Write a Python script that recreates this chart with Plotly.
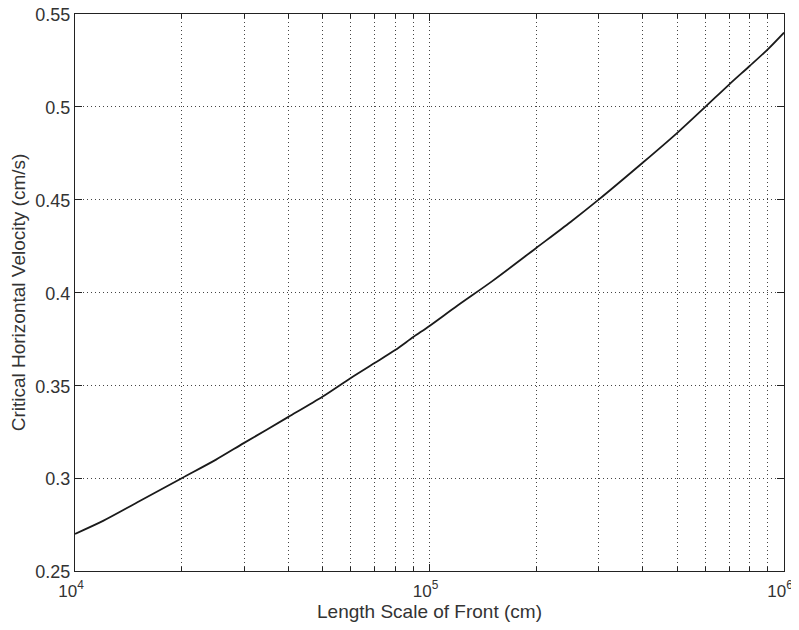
import plotly.graph_objects as go

# Values
length_cm = [1e4, 1.2e4, 1.5e4, 2e4, 2.5e4, 3e4, 4e4, 5e4, 6e4, 7e4, 8e4, 9e4, 1e5,
             1.2e5, 1.5e5, 2e5, 2.5e5, 3e5, 4e5, 5e5, 6e5, 7e5, 8e5, 9e5, 1e6]
velocity = [0.270, 0.277, 0.287, 0.300, 0.310, 0.319, 0.333, 0.344, 0.354, 0.362, 0.369, 0.376, 0.382,
            0.393, 0.406, 0.424, 0.438, 0.450, 0.470, 0.486, 0.500, 0.512, 0.522, 0.531, 0.540]

x_major = [1e4, 1e5, 1e6]
x_labels = ["10<sup>4</sup>", "10<sup>5</sup>", "10<sup>6</sup>"]
x_minor = [m * 10 ** e for e in (4, 5) for m in range(2, 10)]
y_ticks = [0.25, 0.3, 0.35, 0.4, 0.45, 0.5, 0.55]
y_labels = ["0.25", "0.3", "0.35", "0.4", "0.45", "0.5", "0.55"]

fig = go.Figure(go.Scatter(x=length_cm, y=velocity, mode="lines",
                           line=dict(color="#1a1a1a", width=1.8, shape="spline", smoothing=0.8)))

dots = "1px,3px"

fig.update_xaxes(type="log", range=[4, 6], tickvals=x_major, ticktext=x_labels,
                 ticks="inside", ticklen=7, tickcolor="#222",
                 showline=True, linecolor="#222", linewidth=1.3, mirror="ticks",
                 title=dict(text="Length Scale of Front (cm)", font=dict(size=19), standoff=0),
                 tickfont=dict(size=17), automargin=False, ticklabeloverflow="allow",
                 ticklabelshift=-4, ticklabelstandoff=4,
                 showgrid=True, gridcolor="#444", griddash=dots, gridwidth=1,
                 minor=dict(tickvals=x_minor, ticks="inside", ticklen=4, tickcolor="#222",
                            showgrid=True, gridcolor="#444", griddash=dots, gridwidth=1),
                 zeroline=False)
fig.update_yaxes(range=[0.25, 0.55], tickvals=y_ticks, ticktext=y_labels,
                 ticks="inside", ticklen=7, tickcolor="#222",
                 showline=True, linecolor="#222", linewidth=1.3, mirror="ticks",
                 title=dict(text="Critical Horizontal Velocity (cm/s)", font=dict(size=19), standoff=5),
                 tickfont=dict(size=18), automargin=False, ticklabeloverflow="allow",
                 ticklabelshift=1,
                 showgrid=True, gridcolor="#444", griddash=dots, gridwidth=1,
                 zeroline=False)

# page body adds an 8px margin, so the figure is sized to fit the 799x630 window
fig.update_layout(width=791, height=622, margin=dict(l=67, r=15, t=6, b=59),
                  plot_bgcolor="white", paper_bgcolor="white", showlegend=False,
                  font=dict(family="Liberation Sans, Arial, sans-serif", color="#333"))

fig.write_html("out.html")
